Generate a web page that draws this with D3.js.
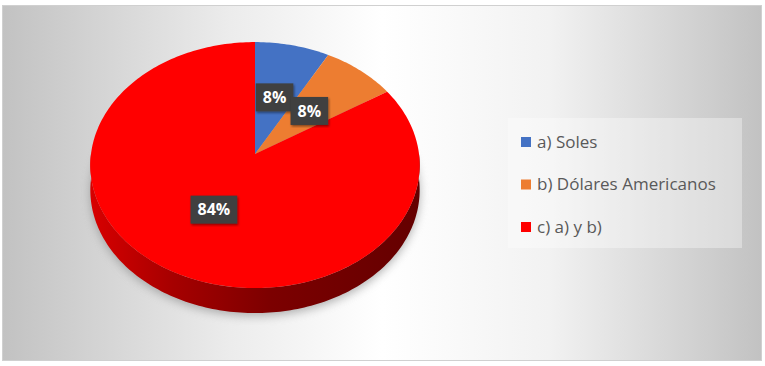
<!DOCTYPE html>
<html>
<head>
<meta charset="utf-8">
<script src="https://cdn.jsdelivr.net/npm/d3@7"></script>
<style>
  body { margin: 0; background: #ffffff; }
  svg { display: block; }
</style>
</head>
<body>
<div id="chart"></div>
<script>
const categories = ["a) Soles", "b) Dólares Americanos", "c) a) y b)"];
const values = [8, 8, 84];
const valueLabels = ["8%", "8%", "84%"];
const colors = ["#4472c4", "#ed7d31", "#ff0000"];

const W = 765, H = 366;

const svg = d3.select("#chart")
  .append("svg")
  .attr("width", W)
  .attr("height", H);

const defs = svg.append("defs");

// background of chart area
const bg = defs.append("linearGradient").attr("id", "bg");
[[0, "#c2c2c2"], [0.3, "#ececec"], [0.5, "#ffffff"], [0.72, "#f2f2f2"], [1, "#c2c2c2"]]
  .forEach(([o, c]) => bg.append("stop").attr("offset", o).attr("stop-color", c));

const side = defs.append("linearGradient").attr("id", "side");
[[0, "#d80000"], [0.25, "#a60000"], [0.55, "#7c0000"], [1, "#640000"]]
  .forEach(([o, c]) => side.append("stop").attr("offset", o).attr("stop-color", c));

defs.append("filter").attr("id", "blur")
  .attr("x", "-20%").attr("y", "-20%").attr("width", "140%").attr("height", "140%")
  .append("feGaussianBlur").attr("stdDeviation", 5);

const lblShadow = defs.append("filter").attr("id", "lshadow");
lblShadow.append("feDropShadow").attr("dx", 1).attr("dy", 1.5)
  .attr("stdDeviation", 1.2).attr("flood-color", "#000").attr("flood-opacity", 0.45);

svg.append("rect")
  .attr("x", 2.5).attr("y", 5.5)
  .attr("width", 759).attr("height", 355)
  .attr("fill", "url(#bg)")
  .attr("stroke", "#d0d0d0");

// 3D pie with a little perspective
const cx = 255, cy = 154, A = 164, B = 122, p = 0.09, depth = 25;

function proj(a, r) {
  const u = r * Math.sin(a), v = -r * Math.cos(a);
  const s = 1 - p * v;
  return [cx + A * u / s, cy + B * v / s];
}

function arcPoints(a0, a1, dy) {
  const n = Math.max(2, Math.ceil((a1 - a0) / 0.02));
  return d3.range(n + 1).map(i => {
    const pt = proj(a0 + (a1 - a0) * i / n, 1);
    return [pt[0], pt[1] + dy];
  });
}

const line = d3.line();
const arcs = d3.pie().sort(null).value(d => d)(values);

const g = svg.append("g");

// soft shadow under the pie
g.append("path")
  .attr("d", line(arcPoints(0, 2 * Math.PI, depth + 3)) + "Z")
  .attr("fill", "#8a8a8a")
  .attr("opacity", 0.65)
  .attr("filter", "url(#blur)");

// side wall (front half only)
const sideTop = arcPoints(Math.PI / 2, 3 * Math.PI / 2, 0);
const sideBottom = arcPoints(Math.PI / 2, 3 * Math.PI / 2, depth).reverse();
g.append("path")
  .attr("d", line(sideTop.concat(sideBottom)) + "Z")
  .attr("fill", "url(#side)");

// top faces
g.selectAll("path.slice")
  .data(arcs)
  .join("path")
  .attr("class", "slice")
  .attr("d", d => line([[cx, cy]].concat(arcPoints(d.startAngle, d.endAngle, 0))) + "Z")
  .attr("fill", (d, i) => colors[i]);

// data labels
const lbl = g.selectAll("g.lbl")
  .data(arcs)
  .join("g")
  .attr("class", "lbl")
  .attr("transform", d => {
    const pt = proj((d.startAngle + d.endAngle) / 2, 0.5);
    return `translate(${pt[0]},${pt[1]})`;
  });

lbl.append("text")
  .attr("text-anchor", "middle")
  .attr("dy", "0.36em")
  .style("font-family", "'Open Sans', sans-serif")
  .style("font-weight", "bold")
  .style("font-size", "16px")
  .attr("fill", "#ffffff")
  .text((d, i) => valueLabels[i])
  .each(function () {
    const b = this.getBBox();
    d3.select(this.parentNode).insert("rect", "text")
      .attr("x", b.x - 7).attr("y", -14)
      .attr("width", b.width + 14).attr("height", 28)
      .attr("fill", "#404040")
      .attr("filter", "url(#lshadow)");
  });

// legend
svg.append("rect")
  .attr("x", 508).attr("y", 118)
  .attr("width", 234).attr("height", 130)
  .attr("fill", "#ffffff")
  .attr("opacity", 0.35);

const legend = svg.selectAll(".legend")
  .data(categories)
  .join("g")
  .attr("class", "legend")
  .attr("transform", (d, i) => `translate(521, ${142 + i * 42.5})`);

legend.append("rect")
  .attr("y", -5)
  .attr("width", 10)
  .attr("height", 10)
  .attr("fill", (d, i) => colors[i]);

legend.append("text")
  .attr("x", 16)
  .attr("dy", "0.35em")
  .style("font-family", "'Open Sans', sans-serif")
  .style("font-size", "17px")
  .attr("fill", "#595959")
  .text(d => d);
</script>
</body>
</html>
